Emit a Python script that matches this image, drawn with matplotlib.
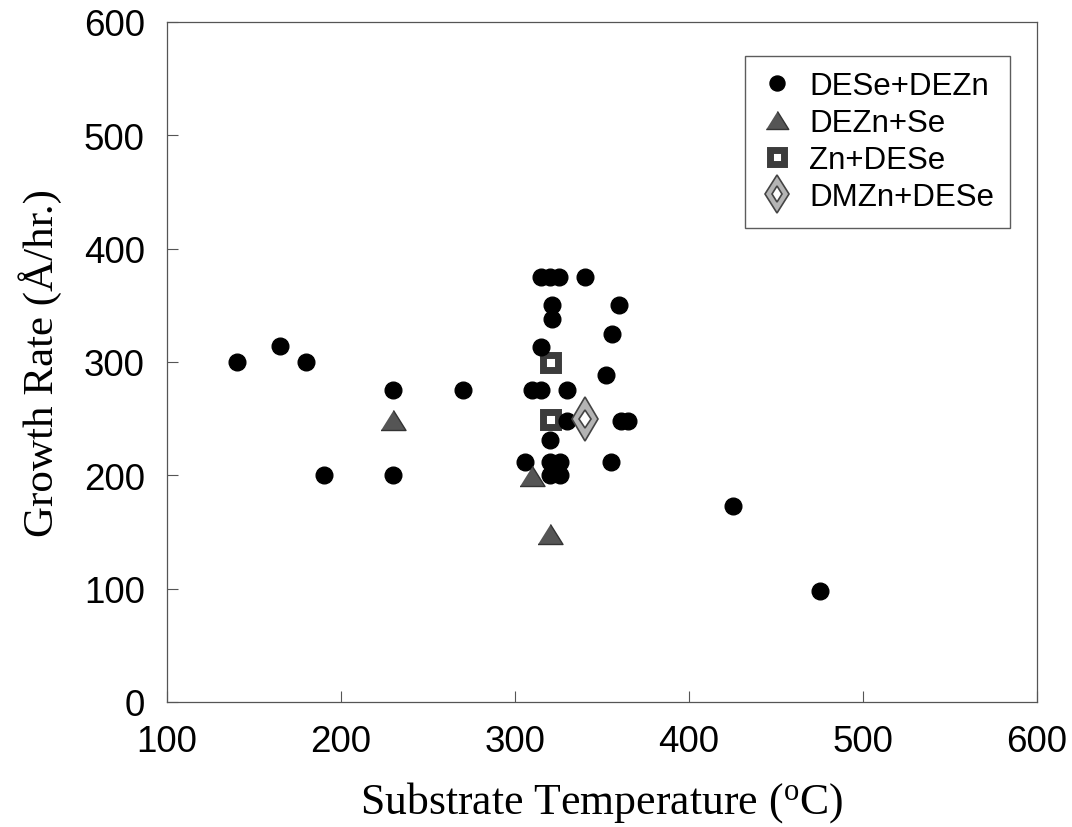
import matplotlib
matplotlib.use("Agg")
import matplotlib.pyplot as plt
from matplotlib.legend_handler import HandlerTuple

plt.rcParams['font.family'] = ['Liberation Sans', 'DejaVu Sans']
plt.rcParams['mathtext.fontset'] = 'custom'
plt.rcParams['mathtext.rm'] = 'Liberation Serif'
plt.rcParams['mathtext.it'] = 'Liberation Serif:italic'

# DESe+DEZn (circles)
desezn_x = [140, 165, 180, 190, 230, 230, 270, 306, 310, 315, 315, 315, 320, 321,
            321, 320, 320, 320, 325, 326, 326, 330, 330, 340, 352, 355, 356, 360,
            361, 365, 425, 475]
desezn_y = [300, 314, 300, 200, 275, 200, 275, 212, 275, 275, 313, 375, 375, 350,
            338, 231, 212, 200, 375, 212, 200, 275, 248, 375, 288, 212, 325, 350,
            248, 248, 173, 98]
# DEZn+Se (triangles)
dezn_se_x = [230, 310, 320]
dezn_se_y = [249, 199, 148]
# Zn+DESe (squares)
zn_dese_x = [320, 320]
zn_dese_y = [300, 250]
# DMZn+DESe (diamond)
dmzn_x = [340]
dmzn_y = [250]

labels = ['DESe+DEZn', 'DEZn+Se', 'Zn+DESe', 'DMZn+DESe']
xticks = [100, 200, 300, 400, 500, 600]
yticks = [0, 100, 200, 300, 400, 500, 600]

fig = plt.figure(figsize=(10.72, 8.28), dpi=100)
ax = fig.add_axes([0.1558, 0.1510, 0.8116, 0.8215])

tri = [(-1, -0.8), (1, -0.8), (0, 0.8)]

h_sq, = ax.plot(zn_dese_x, zn_dese_y, ls='none', marker='s', markersize=10.8,
                markerfacecolor='white', markeredgecolor='#3c3c3c',
                markeredgewidth=5, zorder=2)
h_c, = ax.plot(desezn_x, desezn_y, ls='none', marker='o', markersize=12,
               markerfacecolor='black', markeredgecolor='black', zorder=3)
h_t, = ax.plot(dezn_se_x, dezn_se_y, ls='none', marker=tri, markersize=18,
               markerfacecolor='#555555', markeredgecolor='#333333',
               markeredgewidth=1, zorder=4)
h_d1, = ax.plot(dmzn_x, dmzn_y, ls='none', marker='d', markersize=22,
                markerfacecolor='#b4b4b4', markeredgecolor='#444444',
                markeredgewidth=1.2, zorder=5)
h_d2, = ax.plot(dmzn_x, dmzn_y, ls='none', marker='d', markersize=9.5,
                markerfacecolor='white', markeredgecolor='#444444',
                markeredgewidth=1.2, zorder=6)

ax.set_xlim(100, 600)
ax.set_ylim(0, 600)
ax.set_xticks(xticks)
ax.set_yticks(yticks)
ax.set_xticklabels([str(v) for v in xticks])
ax.set_yticklabels([str(v) for v in yticks])
ax.tick_params(direction='in', length=8, width=0.8, color='#555555',
               labelsize=26.5, pad=16, top=False, right=False)
for s in ax.spines.values():
    s.set_color('#555555')
    s.set_linewidth(0.9)

ax.set_xlabel(r'Substrate Temperature ($\mathrm{^oC}$)', family='Liberation Serif',
              fontsize=31.5, labelpad=14)
ax.set_ylabel('Growth Rate (Å/hr.)', family='Liberation Serif', fontsize=31,
              labelpad=16)

leg = ax.legend([h_c, h_t, h_sq, (h_d1, h_d2)], labels,
                handler_map={tuple: HandlerTuple(ndivide=1)},
                loc='upper right', bbox_to_anchor=(0.969, 0.950), borderaxespad=0,
                fontsize=22.5, frameon=True, fancybox=False, shadow=False,
                handlelength=1.0, handletextpad=0.55, labelspacing=0.22,
                borderpad=0.5, markerscale=0.9)
leg.get_frame().set_edgecolor('#333333')
leg.get_frame().set_linewidth(1.0)

fig.savefig('out.png', dpi=100, facecolor='white')
